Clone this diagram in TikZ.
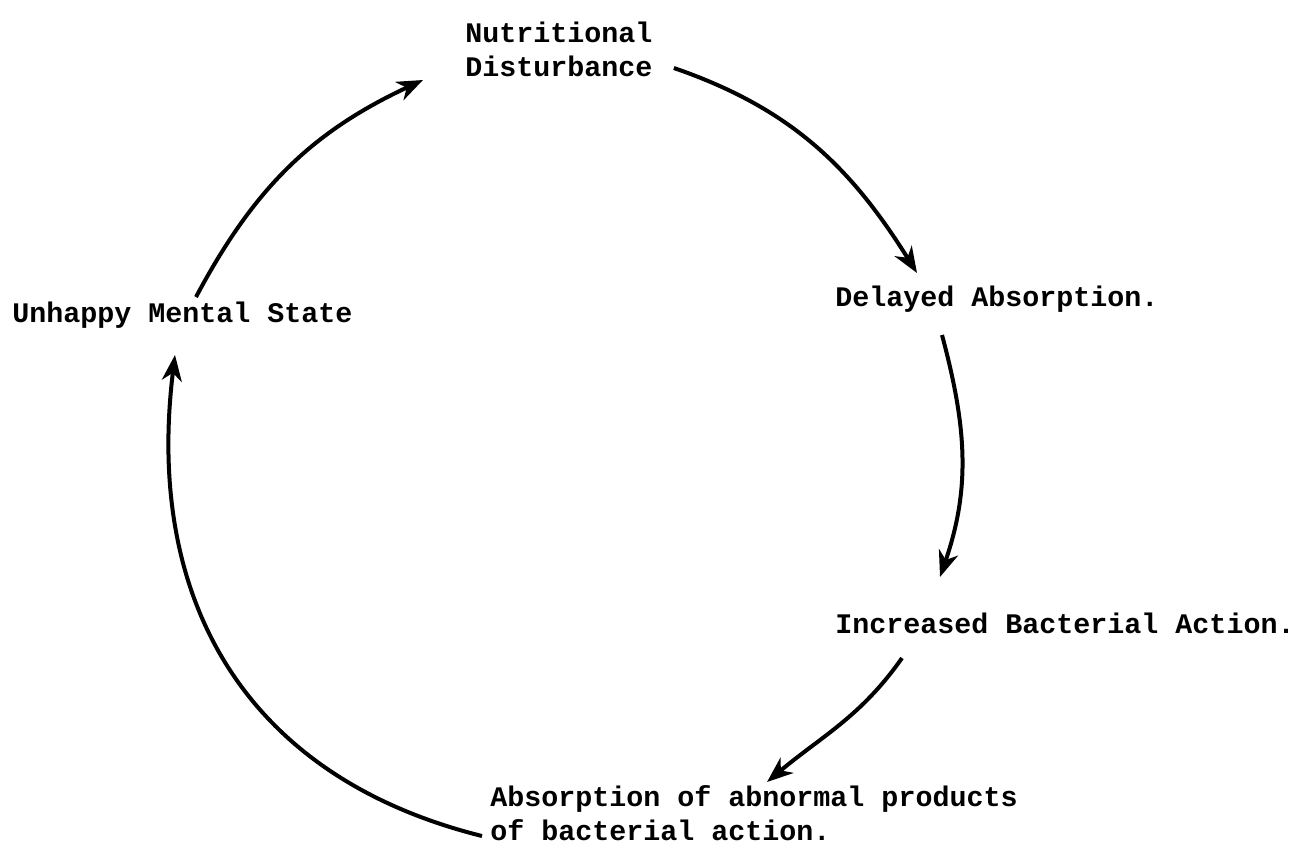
\documentclass[tikz,border=0pt]{standalone}
\usepackage{fontspec}
\setmonofont{Liberation Mono}
\usetikzlibrary{arrows.meta}
\begin{document}
\begin{tikzpicture}[x=0.5pt,y=0.5pt,
                lbl/.style={inner sep=0pt,anchor=base west,align=left,font=\ttfamily\bfseries\fontsize{14.17}{17}\selectfont},
                cyc/.style={line width=2pt,-{Stealth[length=13pt,width=10pt,inset=4pt]}}]
                \useasboundingbox (0,0) rectangle (1307,-848);
                \node[lbl] (nutr) at (465,-76) {Nutritional\\Disturbance};
                \node[lbl] (delay) at (835,-306) {Delayed Absorption.};
                \node[lbl] (incr) at (835,-633) {Increased Bacterial Action.};
                \node[lbl] (absn) at (490,-840) {Absorption of abnormal products\\of bacterial action.};
                \node[lbl] (unhp) at (12,-322) {Unhappy Mental State};
                \draw[cyc] ([shift={(21,8)}]nutr.base east) to[out=-19,in=122] ([shift={(82,33)}]delay.base west);
                \draw[cyc] ([shift={(107,-29)}]delay.base west) to[out=-75,in=71] ([shift={(105,56)}]incr.base west);
                \draw[cyc] ([shift={(67,-25)}]incr.base west) to[out=-125,in=40] ([shift={(277,58)}]absn.base west);
                \draw[cyc] ([shift={(-8,4)}]absn.base west) to[out=166,in=-97,looseness=1.1] ([shift={(163,-33)}]unhp.base west);
                \draw[cyc] ([shift={(184,25)}]unhp.base west) to[out=62,in=205] ([shift={(-42,-4)}]nutr.base west);
\end{tikzpicture}
\end{document}
